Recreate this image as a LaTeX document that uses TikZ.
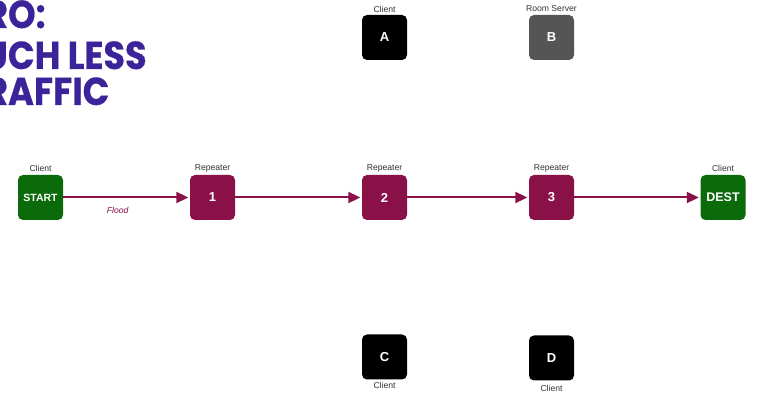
\documentclass[tikz,border=0pt]{standalone}
\usepackage{fontspec}
\setmainfont{Liberation Sans}
\newfontfamily\titlefont{Poppins}[FakeBold=0.5]
\usetikzlibrary{arrows.meta}

\definecolor{repeater}{HTML}{8A1048}
\definecolor{clientgreen}{HTML}{0B6B0B}
\definecolor{servergray}{HTML}{555555}
\definecolor{titlepurple}{HTML}{3B2399}
\definecolor{captioncol}{HTML}{333333}

\tikzset{
  box/.style={rounded corners=5pt, minimum width=45pt, minimum height=45pt,
    inner sep=0pt, text=white, font=\bfseries\fontsize{13}{15}\selectfont},
  rep/.style={box, fill=repeater},
  greenbox/.style={box, fill=clientgreen},
  blackbox/.style={box, fill=black},
  graybox/.style={box, fill=servergray},
  lbl/.style={text=captioncol, font=\fontsize{8.6}{10}\selectfont, inner sep=0pt},
  flow/.style={draw=repeater, line width=2pt,
    -{Triangle[length=12pt, width=11pt]}, shorten >=1.5pt},
  headline/.style={anchor=base west, text=titlepurple, inner sep=0pt, xscale=0.9,
    font=\titlefont\bfseries\fontsize{39}{39}\selectfont},
}

\begin{document}
\begin{tikzpicture}[x=1pt, y=-1pt]
  \path[use as bounding box, clip] (0,0) rectangle (758,395);
  \fill[white] (0,0) rectangle (758,395);

  % headline, cut off by the left edge of the slide
  \node[headline] (t1) at (-15,28) {RO:};
  \node[headline] (t2) at (-17,69) {UCH LESS};
  \node[headline] (t3) at (-15,105) {RAFFIC};

  % main route
  \node[greenbox, font=\bfseries\fontsize{10.5}{12}\selectfont] (start) at (40.5,197.5) {START};
  \node[rep] (r1) at (212.5,197.5) {1};
  \node[rep] (r2) at (384.5,197.5) {2};
  \node[rep] (r3) at (551.5,197.5) {3};
  \node[greenbox, font=\bfseries\fontsize{12.5}{14}\selectfont] (dest) at (723,197.5) {DEST};

  % side nodes
  \node[blackbox] (a) at (384.5,37.5) {A};
  \node[graybox] (b) at (551.5,37.5) {B};
  \node[blackbox] (c) at (384.5,357) {C};
  \node[blackbox] (d) at (551.5,358) {D};

  % captions
  \node[lbl] (lstart) at (40.5,168) {Client};
  \node[lbl] (lr1) at (212.5,168) {Repeater};
  \node[lbl] (lr2) at (384.5,168) {Repeater};
  \node[lbl] (lr3) at (551.5,168) {Repeater};
  \node[lbl] (ldest) at (723,168) {Client};
  \node[lbl] (la) at (384.5,9) {Client};
  \node[lbl] (lb) at (551.5,9) {Room Server};
  \node[lbl] (lc) at (384.5,385.5) {Client};
  \node[lbl] (ld) at (551.5,388) {Client};

  % flooding links
  \draw[flow] (start) -- node[pos=0.43, below=9pt, text=repeater, font=\itshape\fontsize{8.6}{10}\selectfont, inner sep=0pt] (flood) {Flood} (r1);
  \draw[flow] (r1) -- (r2);
  \draw[flow] (r2) -- (r3);
  \draw[flow] (r3) -- (dest);
\end{tikzpicture}
\end{document}
